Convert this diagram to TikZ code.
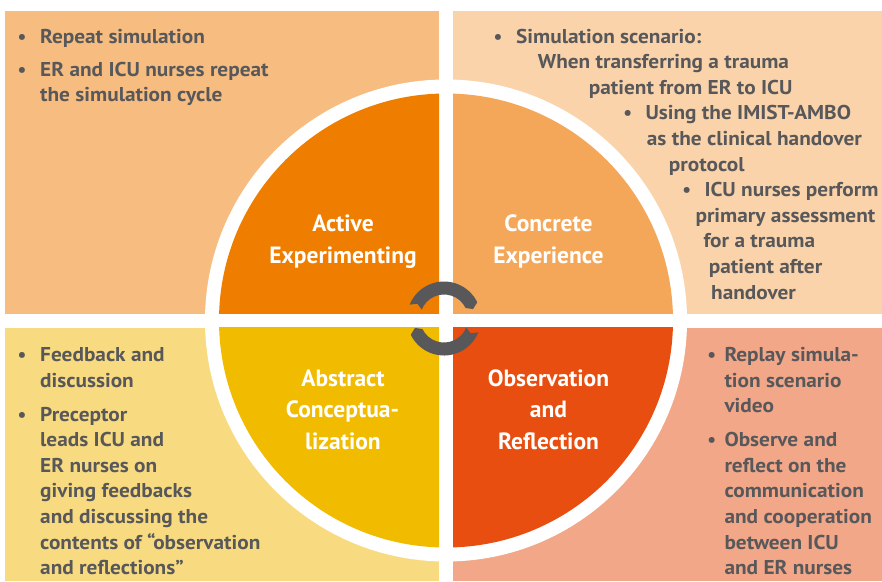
\documentclass[tikz,border=0pt]{standalone}
\usepackage{fontspec}
\setmainfont{PT Sans}
\newfontfamily\bodyfont[FakeStretch=1.065]{PT Sans}
\usetikzlibrary{calc}
\definecolor{cTL}{HTML}{F6BC80}
\definecolor{cTR}{HTML}{FAD3AA}
\definecolor{cBL}{HTML}{F8DB80}
\definecolor{cBR}{HTML}{F2A788}
\definecolor{cAE}{HTML}{EF7D00}
\definecolor{cCE}{HTML}{F5A759}
\definecolor{cAC}{HTML}{F1BB00}
\definecolor{cOR}{HTML}{E84E0F}
\definecolor{tgray}{HTML}{58585A}
\begin{document}
\begin{tikzpicture}[x=1pt,y=-1pt,
  txt/.style={inner sep=0pt, anchor=base west, text=tgray, font=\bodyfont\bfseries\fontsize{20}{24}\selectfont},
  bul/.style={inner sep=0pt, anchor=base, text=tgray, font=\bfseries\fontsize{19.5}{24}\selectfont},
  lab/.style={inner sep=0pt, anchor=base, text=white, font=\bfseries\fontsize{23.5}{30}\selectfont},
  arrowband/.style={fill=tgray}]
\useasboundingbox (0,0) rectangle (882,581);
\fill[white] (0,0) rectangle (882,581);
% panels
\fill[cTL] (5,11) rectangle (439,313.5);
\fill[cTR] (453,11) rectangle (882,313.5);
\fill[cBL] (5,327.5) rectangle (439,581);
\fill[cBR] (453,327.5) rectangle (882,581);
% circle
\coordinate (c) at (446,320.5);
\fill[white] (c) circle[radius=241];
\begin{scope}\clip (5,11) rectangle (439,313.5); \fill[cAE] (c) circle[radius=227];\end{scope}
\begin{scope}\clip (453,11) rectangle (882,313.5); \fill[cCE] (c) circle[radius=227];\end{scope}
\begin{scope}\clip (5,327.5) rectangle (439,581); \fill[cAC] (c) circle[radius=227];\end{scope}
\begin{scope}\clip (453,327.5) rectangle (882,581); \fill[cOR] (c) circle[radius=227];\end{scope}
% cycle arrows
\coordinate (a) at (444,318.5);
\fill[arrowband] ($(a)+(-158:37)$) arc[start angle=-158, end angle=-26, radius=37]
  -- ($(a)+(-18:30.5)$) -- ($(a)+(-26:24)$) arc[start angle=-26, end angle=-158, radius=24]
  -- ($(a)+(-151:30.5)$) -- cycle;
\fill[arrowband] ($(a)+(22:37)$) arc[start angle=22, end angle=154, radius=37]
  -- ($(a)+(162:30.5)$) -- ($(a)+(154:24)$) arc[start angle=154, end angle=22, radius=24]
  -- ($(a)+(29:30.5)$) -- cycle;
% quadrant labels
\node[lab] (ae1) at (343,231.7) {Active};
\node[lab] (ae2) at (343,263.3) {Experimenting};
\node[lab] (ce1) at (548.5,231.7) {Concrete};
\node[lab] (ce2) at (548.5,263.3) {Experience};
\node[lab] (ac1) at (343,386) {Abstract};
\node[lab] (ac2) at (342.5,417.7) {Conceptua-};
\node[lab] (ac3) at (343,449.3) {lization};
\node[lab] (or1) at (548.5,386) {Observation};
\node[lab] (or2) at (548.5,417.7) {and};
\node[lab] (or3) at (548.5,449.3) {Reflection};
% top-left text
\node[bul] (tlb1) at (22,43) {•};
\node[txt] (tl1) at (40,43) {Repeat simulation};
\node[bul] (tlb2) at (22,76) {•};
\node[txt] (tl2) at (40,76) {ER and ICU nurses repeat};
\node[txt] (tl3) at (40,101.6) {the simulation cycle};
% top-right text
\node[bul] (trb1) at (498,43) {•};
\node[txt] (tr1) at (516,43) {Simulation scenario:};
\node[txt] (tr2) at (537.7,68.6) {When transferring a trauma};
\node[txt] (tr3) at (588.7,94.2) {patient from ER to ICU};
\node[bul] (trb2) at (627.7,119.8) {•};
\node[txt] (tr4) at (645.3,119.8) {Using the IMIST-AMBO};
\node[txt] (tr5) at (646.7,145.4) {as the clinical handover};
\node[txt] (tr6) at (668.7,171) {protocol};
\node[bul] (trb3) at (686.7,196.6) {•};
\node[txt] (tr7) at (704.3,196.6) {ICU nurses perform};
\node[txt] (tr8) at (695.3,222.2) {primary assessment};
\node[txt] (tr9) at (703.3,247.8) {for a trauma};
\node[txt] (tr10) at (708.7,273.4) {patient after};
\node[txt] (tr11) at (711,299) {handover};
% bottom-left text
\node[bul] (blb1) at (22,361.7) {•};
\node[txt] (bl1) at (40,361.7) {Feedback and};
\node[txt] (bl2) at (40,387.3) {discussion};
\node[bul] (blb2) at (22,421) {•};
\node[txt] (bl3) at (40,421) {Preceptor};
\node[txt] (bl4) at (40,446.6) {leads ICU and};
\node[txt] (bl5) at (40,472.2) {ER nurses on};
\node[txt] (bl6) at (40,497.8) {giving feedbacks};
\node[txt] (bl7) at (40,523.4) {and discussing the};
\node[txt] (bl8) at (40,549) {contents of “observation};
\node[txt] (bl9) at (40,574.6) {and reflections”};
% bottom-right text
\node[bul] (brb1) at (711.7,361.7) {•};
\node[txt] (br1) at (724.3,361.7) {Replay simula-};
\node[txt] (br2) at (724.3,387.3) {tion scenario};
\node[txt] (br3) at (724.3,412.9) {video};
\node[bul] (brb2) at (711.7,446.6) {•};
\node[txt] (br4) at (724.3,446.6) {Observe and};
\node[txt] (br5) at (724.3,472.2) {reflect on the};
\node[txt] (br6) at (724.3,497.8) {communication};
\node[txt] (br7) at (724.3,523.4) {and cooperation};
\node[txt] (br8) at (724.3,549) {between ICU};
\node[txt] (br9) at (724.3,574.6) {and ER nurses};
\end{tikzpicture}
\end{document}
